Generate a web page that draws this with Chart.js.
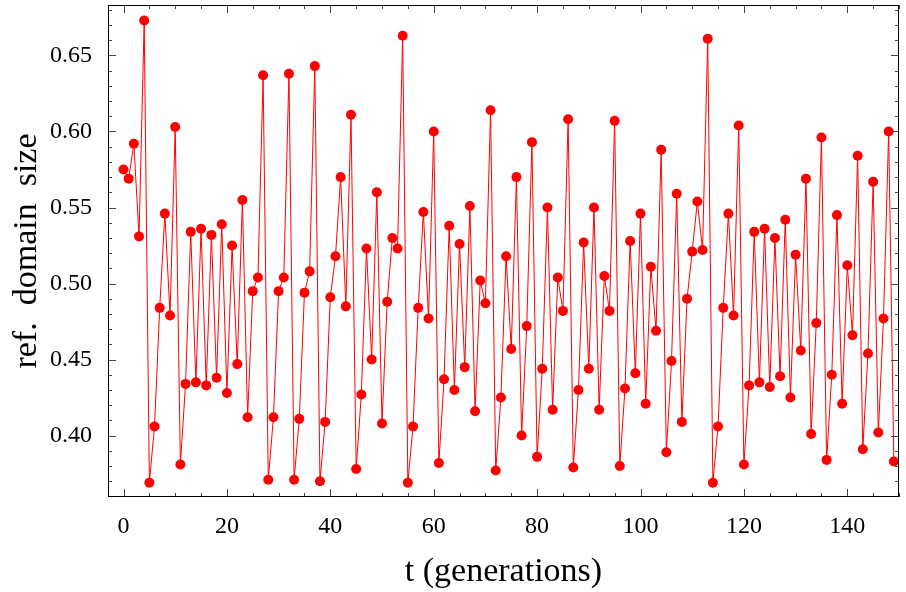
<!DOCTYPE html>
<html lang="en">
  <head>
    <meta charset="utf-8">
    <title>ref. domain size</title>
    <script src="https://cdn.jsdelivr.net/npm/chart.js@4"></script>
    <style>
      body { margin: 0; background: #fff; }
    </style>
  </head>
  <body>
    <canvas id="chart" width="906" height="592"></canvas>

    <script type="text/javascript">

    // ref. domain size per generation, t = 0 .. 149
    var domainSize = [
      0.575, 0.569, 0.592, 0.531, 0.673, 0.369, 0.406, 0.484, 0.546, 0.479,
      0.603, 0.381, 0.434, 0.534, 0.435, 0.536, 0.433, 0.532, 0.438, 0.539,
      0.428, 0.525, 0.447, 0.555, 0.412, 0.495, 0.504, 0.637, 0.371, 0.412,
      0.495, 0.504, 0.638, 0.371, 0.411, 0.494, 0.508, 0.643, 0.370, 0.409,
      0.491, 0.518, 0.570, 0.485, 0.611, 0.378, 0.427, 0.523, 0.450, 0.560,
      0.408, 0.488, 0.530, 0.523, 0.663, 0.369, 0.406, 0.484, 0.547, 0.477,
      0.600, 0.382, 0.437, 0.538, 0.430, 0.526, 0.445, 0.551, 0.416, 0.502,
      0.487, 0.614, 0.377, 0.425, 0.518, 0.457, 0.570, 0.400, 0.472, 0.593,
      0.386, 0.444, 0.550, 0.417, 0.504, 0.482, 0.608, 0.379, 0.430, 0.527,
      0.444, 0.550, 0.417, 0.505, 0.482, 0.607, 0.380, 0.431, 0.528, 0.441,
      0.546, 0.421, 0.511, 0.469, 0.588, 0.389, 0.449, 0.559, 0.409, 0.490,
      0.521, 0.554, 0.522, 0.661, 0.369, 0.406, 0.484, 0.546, 0.479, 0.604,
      0.381, 0.433, 0.534, 0.435, 0.536, 0.432, 0.530, 0.439, 0.542, 0.425,
      0.519, 0.456, 0.569, 0.401, 0.474, 0.596, 0.384, 0.440, 0.545, 0.421,
      0.512, 0.466, 0.584, 0.391, 0.454, 0.567, 0.402, 0.477, 0.600, 0.383
    ]

    var xTicks = [0, 20, 40, 60, 80, 100, 120, 140]
    var yTicks = [0.40, 0.45, 0.50, 0.55, 0.60, 0.65]

    var points = domainSize.map(function(v, i){ return {x: i, y: v} })

    var serif = "'Liberation Serif', 'DejaVu Serif', serif"

    // Mathematica-style frame with inward ticks on all four sides
    var frameTicks = {
      id: 'frameTicks',
      afterDraw: function(chart){
        var ctx = chart.ctx, a = chart.chartArea
        var xs = chart.scales.x, ys = chart.scales.y
        ctx.save()
        ctx.strokeStyle = '#444'
        ctx.lineWidth = 1
        ctx.beginPath()
        for (var t = 0; t <= 150; t += 5) {
          var px = Math.round(xs.getPixelForValue(t)) + 0.5
          var len = (t % 20 === 0) ? 8 : 4
          ctx.moveTo(px, a.bottom); ctx.lineTo(px, a.bottom - len)
          ctx.moveTo(px, a.top); ctx.lineTo(px, a.top + len)
        }
        for (var k = 36; k <= 68; k++) {
          var py = Math.round(ys.getPixelForValue(k / 100)) + 0.5
          var len2 = (k % 5 === 0) ? 8 : 4
          ctx.moveTo(a.left, py); ctx.lineTo(a.left + len2, py)
          ctx.moveTo(a.right, py); ctx.lineTo(a.right - len2, py)
        }
        ctx.stroke()
        ctx.strokeStyle = '#000'
        ctx.strokeRect(a.left + 0.5, a.top + 0.5, a.right - a.left - 1, a.bottom - a.top - 1)
        ctx.restore()
      }
    }

    var ctx = document.getElementById('chart').getContext('2d')
    var chart = new Chart(ctx, {
      type: 'line',
      data: {
        datasets: [{
          data: points,
          borderColor: '#ff0000',
          borderWidth: 1,
          backgroundColor: '#ff0000',
          pointRadius: 5,
          pointBorderWidth: 0,
          pointBackgroundColor: '#ff0000',
          tension: 0
        }]
      },
      plugins: [frameTicks],
      options: {
        responsive: false,
        animation: false,
        layout: { padding: { top: 0, right: 7, left: 0, bottom: 0 } },
        plugins: {
          legend: { display: false },
          tooltip: { enabled: false }
        },
        scales: {
          x: {
            type: 'linear',
            min: -3,
            max: 150,
            grid: { display: false },
            border: { display: false },
            afterBuildTicks: function(s){ s.ticks = xTicks.map(function(v){ return {value: v} }) },
            afterFit: function(s){ s.height = 95; s.paddingLeft = 0; s.paddingRight = 0 },
            ticks: {
              padding: 7,
              maxRotation: 0,
              color: '#000',
              font: { family: serif, size: 24 }
            },
            title: {
              display: true,
              text: 't (generations)',
              color: '#000',
              font: { family: serif, size: 34 },
              padding: { top: 0, bottom: 0 }
            }
          },
          y: {
            min: 0.3596,
            max: 0.6832,
            grid: { display: false },
            border: { display: false },
            afterBuildTicks: function(s){ s.ticks = yTicks.map(function(v){ return {value: v} }) },
            afterFit: function(s){ s.width = 108; s.paddingTop = 0; s.paddingBottom = 0 },
            ticks: {
              padding: 8,
              color: '#000',
              font: { family: serif, size: 24 },
              callback: function(v){ return v.toFixed(2) }
            },
            title: {
              display: true,
              text: 'ref.  domain  size',
              color: '#000',
              font: { family: serif, size: 34 },
              padding: { top: 7, bottom: 0 }
            }
          }
        }
      }
    })

    </script>
  </body>
</html>
